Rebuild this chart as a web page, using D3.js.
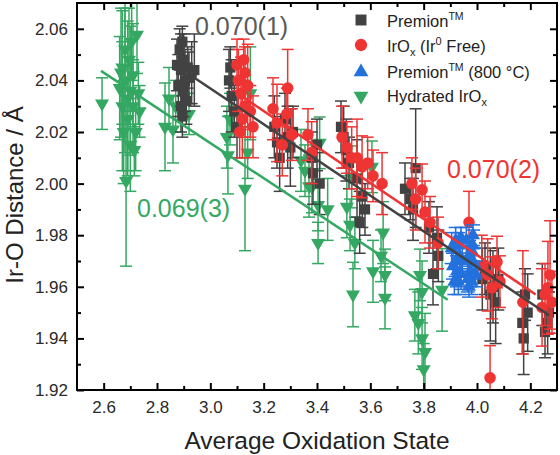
<!DOCTYPE html>
<html><head><meta charset="utf-8">
<script src="https://cdn.jsdelivr.net/npm/d3@7"></script>
<style>
body{margin:0;background:#fff}
svg{display:block}
text{font-family:"Liberation Sans",Arial,sans-serif}
</style>
</head><body>
<svg id="c" width="560" height="455"></svg>
<script>
// ---- data: [x, y, error] ----
const premion = [
  [2.875,2.046,0.010],[2.88,2.038,0.012],[2.885,2.052,0.008],[2.89,2.030,0.010],[2.89,2.044,0.014],
  [2.895,2.026,0.008],[2.90,2.048,0.010],[2.90,2.036,0.010],[2.905,2.040,0.012],[2.91,2.032,0.009],
  [2.915,2.045,0.008],[2.92,2.041,0.010],[2.93,2.043,0.012],[2.94,2.044,0.014],[2.895,2.055,0.006],
  [3.07,2.040,0.012],[3.08,2.034,0.014],[3.09,2.028,0.010],[3.10,2.022,0.012],[3.075,2.045,0.008],
  [3.24,2.022,0.012],[3.25,2.016,0.010],[3.26,2.010,0.013],[3.28,2.025,0.010],[3.29,2.018,0.012],
  [3.30,2.014,0.015],[3.31,2.020,0.010],
  [3.38,2.010,0.010],[3.385,2.004,0.012],[3.40,2.015,0.010],[3.41,2.000,0.012],
  [3.49,2.022,0.010],[3.50,2.018,0.012],[3.51,2.013,0.012],[3.52,2.008,0.010],[3.55,2.002,0.015],
  [3.57,1.995,0.012],[3.58,1.990,0.010],[3.56,1.985,0.012],
  [3.73,1.998,0.010],[3.77,2.006,0.023],[3.76,1.990,0.012],[3.75,1.994,0.008],
  [3.82,1.983,0.010],[3.835,1.965,0.012],[3.85,1.979,0.012],[3.855,1.972,0.010],
  [4.02,1.963,0.012],[4.03,1.967,0.010],[4.05,1.957,0.018],[4.06,1.960,0.014],[4.07,1.954,0.016],[4.08,1.963,0.012],
  [4.17,1.946,0.012],[4.175,1.940,0.014],[4.18,1.957,0.010],[4.19,1.950,0.015],
  [4.245,1.957,0.012],[4.255,1.9425,0.010],[4.265,1.946,0.012],[4.27,1.950,0.008]
];
const irox = [
  [3.10,2.046,0.010],[3.105,2.040,0.012],[3.11,2.020,0.010],[3.115,2.035,0.014],[3.12,2.025,0.015],
  [3.125,2.048,0.008],[3.13,2.030,0.012],[3.14,2.038,0.016],[3.15,2.028,0.010],[3.16,2.022,0.012],[3.13,2.043,0.010],
  [3.235,2.029,0.012],[3.25,2.0235,0.015],[3.287,2.027,0.010],[3.29,2.037,0.015],[3.306,2.019,0.010],[3.27,2.015,0.012],
  [3.366,2.019,0.010],[3.38,2.012,0.012],[3.494,2.018,0.012],[3.512,2.014,0.010],[3.53,2.010,0.012],
  [3.55,2.010,0.015],[3.569,2.0065,0.012],[3.59,2.008,0.010],[3.61,2.003,0.010],[3.644,2.000,0.012],
  [3.756,2.000,0.010],[3.77,1.994,0.012],[3.794,1.9976,0.010],[3.805,1.989,0.012],[3.824,1.985,0.010],[3.854,1.977,0.010],
  [3.97,1.985,0.012],[4.018,1.968,0.012],[4.04,1.9646,0.014],[4.056,1.9596,0.012],[4.075,1.9696,0.010],
  [4.086,1.962,0.010],[4.049,1.9247,0.0125],
  [4.172,1.954,0.020],[4.244,1.952,0.015],[4.255,1.957,0.012],[4.266,1.9596,0.018],[4.274,1.9646,0.021],[4.281,1.954,0.012]
];
const premion800 = [
  [3.905,1.975,0.006],[3.91,1.968,0.005],[3.915,1.962,0.005],[3.92,1.978,0.005],[3.92,1.970,0.006],
  [3.925,1.966,0.006],[3.93,1.962,0.005],[3.935,1.972,0.006],[3.93,1.976,0.005],[3.94,1.965,0.006],
  [3.945,1.970,0.006],[3.94,1.979,0.004],
  [3.96,1.978,0.005],[3.965,1.970,0.006],[3.97,1.972,0.006],[3.975,1.966,0.006],[3.98,1.962,0.005],
  [3.985,1.976,0.006],[3.99,1.969,0.006],[3.97,1.960,0.004],[3.98,1.974,0.005],[3.995,1.965,0.005],
  [3.985,1.980,0.004],[3.965,1.963,0.005]
];
const hydrated = [
  [2.594,2.031,0.010],
  [2.66,2.037,0.020],[2.665,2.043,0.025],[2.67,2.045,0.022],[2.67,2.030,0.025],[2.675,2.020,0.020],
  [2.68,2.052,0.018],[2.68,2.040,0.028],[2.684,2.001,0.033],[2.69,2.033,0.030],[2.69,2.025,0.020],
  [2.695,2.048,0.020],[2.70,2.036,0.025],[2.70,2.015,0.018],[2.705,2.055,0.015],[2.71,2.030,0.018],
  [2.71,2.042,0.020],[2.715,2.013,0.010],[2.72,2.020,0.015],[2.725,2.0577,0.015],[2.73,2.035,0.012],[2.735,2.028,0.010],
  [2.83,2.022,0.017],[2.845,2.033,0.012],[2.86,2.021,0.013],[2.87,2.030,0.010],[2.92,2.027,0.008],
  [3.062,2.018,0.012],[3.066,2.011,0.015],[3.074,2.025,0.010],[3.13,1.998,0.024],[3.15,2.035,0.018],[3.14,2.012,0.010],
  [3.34,2.009,0.012],[3.355,2.005,0.010],[3.37,1.999,0.012],[3.381,1.9987,0.010],[3.404,1.9917,0.010],
  [3.404,1.977,0.008],[3.41,2.0158,0.010],[3.44,1.990,0.012],
  [3.512,1.991,0.012],[3.524,1.984,0.010],[3.53,2.0026,0.012],[3.535,1.957,0.0125],[3.542,1.977,0.010],
  [3.606,2.0065,0.010],[3.61,1.966,0.012],[3.648,1.981,0.012],[3.655,1.9646,0.010],[3.655,1.9557,0.012],[3.64,1.972,0.010],
  [3.767,1.949,0.010],[3.78,1.946,0.012],[3.786,1.9646,0.010],[3.794,1.958,0.012],[3.794,1.940,0.012],
  [3.805,1.9347,0.015],[3.80,1.928,0.010],[3.869,1.9588,0.016]
];
// linear fits: [[x0,y0],[x1,y1]]
const premionFit = [[2.94,2.041],[4.27,1.949]];
const iroxFit = [[3.13,2.033],[4.22,1.957]];
const hydratedFit = [[2.59,2.0437],[3.89,1.955]];
const slopeLabels = ["0.070(1)","0.070(2)","0.069(3)"];
const xTicks = [2.6,2.8,3.0,3.2,3.4,3.6,3.8,4.0,4.2];
const xMinor = [2.7,2.9,3.1,3.3,3.5,3.7,3.9,4.1];
const yTicks = [1.92,1.94,1.96,1.98,2.00,2.02,2.04,2.06];
const yMinor = [1.93,1.95,1.97,1.99,2.01,2.03,2.05];

// ---- layout ----
const W = 560, H = 455, M = {l:77, r:3, t:3, b:65};
const svg = d3.select('#c');
const x = d3.scaleLinear().domain([2.5,4.3]).range([M.l, W-M.r]);
const y = d3.scaleLinear().domain([1.92,2.07]).range([H-M.b, M.t]);

const GREY = '#424242', RED = '#ef3434', BLUE = '#2371dd', GREEN = '#34a862';

svg.append('defs').append('clipPath').attr('id','clip')
  .append('rect').attr('x',M.l).attr('y',M.t).attr('width',W-M.l-M.r).attr('height',H-M.t-M.b);

const plot = svg.append('g').attr('clip-path','url(#clip)');

const series = [
  {data: hydrated, color: GREEN, sym: d3.symbolTriangle, size: 85, rot: 180, cap: 6},
  {data: premion, color: GREY, sym: d3.symbolSquare, size: 105, rot: 0, cap: 6},
  {data: irox, color: RED, sym: d3.symbolCircle, size: 105, rot: 0, cap: 6},
  {data: premion800, color: BLUE, sym: d3.symbolTriangle, size: 85, rot: 0, cap: 7}
];

series.forEach(s => {
  const g = plot.append('g');
  const eb = g.selectAll('g.eb').data(s.data).join('g').attr('stroke', s.color).attr('stroke-width',1.5);
  eb.append('line').attr('x1',d=>x(d[0])).attr('x2',d=>x(d[0]))
    .attr('y1',d=>y(d[1]-d[2])).attr('y2',d=>y(d[1]+d[2]));
  eb.append('line').attr('x1',d=>x(d[0])-s.cap).attr('x2',d=>x(d[0])+s.cap)
    .attr('y1',d=>y(d[1]-d[2])).attr('y2',d=>y(d[1]-d[2]));
  eb.append('line').attr('x1',d=>x(d[0])-s.cap).attr('x2',d=>x(d[0])+s.cap)
    .attr('y1',d=>y(d[1]+d[2])).attr('y2',d=>y(d[1]+d[2]));
  g.selectAll('path.m').data(s.data).join('path')
    .attr('d', d3.symbol().type(s.sym).size(s.size))
    .attr('transform', d => `translate(${x(d[0])},${y(d[1])}) rotate(${s.rot})`)
    .attr('fill', s.color);
});

// fit lines
const line = d3.line().x(d=>x(d[0])).y(d=>y(d[1]));
[[hydratedFit,GREEN],[premionFit,GREY],[iroxFit,RED]].forEach(([f,c]) => {
  plot.append('path').datum(f).attr('d', line).attr('stroke', c).attr('stroke-width',2.5).attr('fill','none');
});

// axes (inward ticks)
function styleAxis(g){
  g.select('.domain').remove();
  g.selectAll('.tick line').attr('stroke','#000').attr('stroke-width',2);
  g.selectAll('.tick text').attr('fill','#2a2a2a').style('font-size','17px').style('font-family','"Liberation Sans",Arial,sans-serif');
}
const gx = svg.append('g').attr('transform',`translate(0,${H-M.b})`)
  .call(d3.axisBottom(x).tickValues(xTicks).tickSize(-7).tickPadding(11).tickFormat(d3.format('.1f')));
styleAxis(gx);
styleAxis(svg.append('g').attr('transform',`translate(0,${H-M.b})`)
  .call(d3.axisBottom(x).tickValues(xMinor).tickSize(-4).tickFormat('')));
const gy = svg.append('g').attr('transform',`translate(${M.l},0)`)
  .call(d3.axisLeft(y).tickValues(yTicks).tickSize(-7).tickPadding(9).tickFormat(d3.format('.2f')));
styleAxis(gy);
styleAxis(svg.append('g').attr('transform',`translate(${M.l},0)`)
  .call(d3.axisLeft(y).tickValues(yMinor).tickSize(-4).tickFormat('')));
// mirrored top/right
styleAxis(svg.append('g').attr('transform',`translate(0,${M.t})`)
  .call(d3.axisTop(x).tickValues(xTicks).tickSize(-7).tickFormat('')));
styleAxis(svg.append('g').attr('transform',`translate(0,${M.t})`)
  .call(d3.axisTop(x).tickValues(xMinor).tickSize(-4).tickFormat('')));
styleAxis(svg.append('g').attr('transform',`translate(${W-M.r},0)`)
  .call(d3.axisRight(y).tickValues(yTicks).tickSize(-7).tickFormat('')));
styleAxis(svg.append('g').attr('transform',`translate(${W-M.r},0)`)
  .call(d3.axisRight(y).tickValues(yMinor).tickSize(-4).tickFormat('')));

// frame
svg.append('rect').attr('x',M.l).attr('y',M.t).attr('width',W-M.l-M.r).attr('height',H-M.t-M.b)
  .attr('fill','none').attr('stroke','#000').attr('stroke-width',2);

// axis titles
svg.append('text').attr('x',(M.l+W-M.r)/2).attr('y',449).attr('text-anchor','middle')
  .style('font-size','24.5px').attr('fill','#222').text('Average Oxidation State');
svg.append('text').attr('transform','translate(23,195) rotate(-90)').attr('text-anchor','middle')
  .style('font-size','24px').attr('fill','#222').text('Ir-O Distance / Å');

// slope annotations
svg.append('text').attr('x',195).attr('y',35).style('font-size','25px').attr('fill','#5a5a5a').text(slopeLabels[0]);
svg.append('text').attr('x',447).attr('y',178).style('font-size','25px').attr('fill',RED).text(slopeLabels[1]);
svg.append('text').attr('x',137).attr('y',217).style('font-size','25px').attr('fill',GREEN).text(slopeLabels[2]);

// legend
const lg = svg.append('g');
const legendRows = [
  {sym:d3.symbolSquare,size:120,rot:0,color:GREY,y:20},
  {sym:d3.symbolCircle,size:120,rot:0,color:RED,y:45},
  {sym:d3.symbolTriangle,size:95,rot:0,color:BLUE,y:72},
  {sym:d3.symbolTriangle,size:95,rot:180,color:GREEN,y:96}
];
legendRows.forEach(r => {
  lg.append('path').attr('d', d3.symbol().type(r.sym).size(r.size)())
    .attr('transform',`translate(361,${r.y}) rotate(${r.rot})`).attr('fill', r.color);
});
function ltext(yb){ return lg.append('text').attr('x',387).attr('y',yb).style('font-size','16.5px').attr('fill','#222'); }
let t = ltext(27); t.append('tspan').text('Premion'); t.append('tspan').attr('dy',-7).style('font-size','10.5px').text('TM');
t = ltext(52); t.append('tspan').text('IrO'); t.append('tspan').attr('dy',4).style('font-size','11px').text('x');
t.append('tspan').attr('dy',-4).text(' (Ir'); t.append('tspan').attr('dy',-7).style('font-size','11px').text('0');
t.append('tspan').attr('dy',7).text(' Free)');
t = ltext(78); t.append('tspan').text('Premion'); t.append('tspan').attr('dy',-7).style('font-size','10.5px').text('TM');
t.append('tspan').attr('dy',7).text(' (800 °C)');
t = ltext(102); t.append('tspan').text('Hydrated IrO'); t.append('tspan').attr('dy',4).style('font-size','11px').text('x');
</script>
</body></html>
